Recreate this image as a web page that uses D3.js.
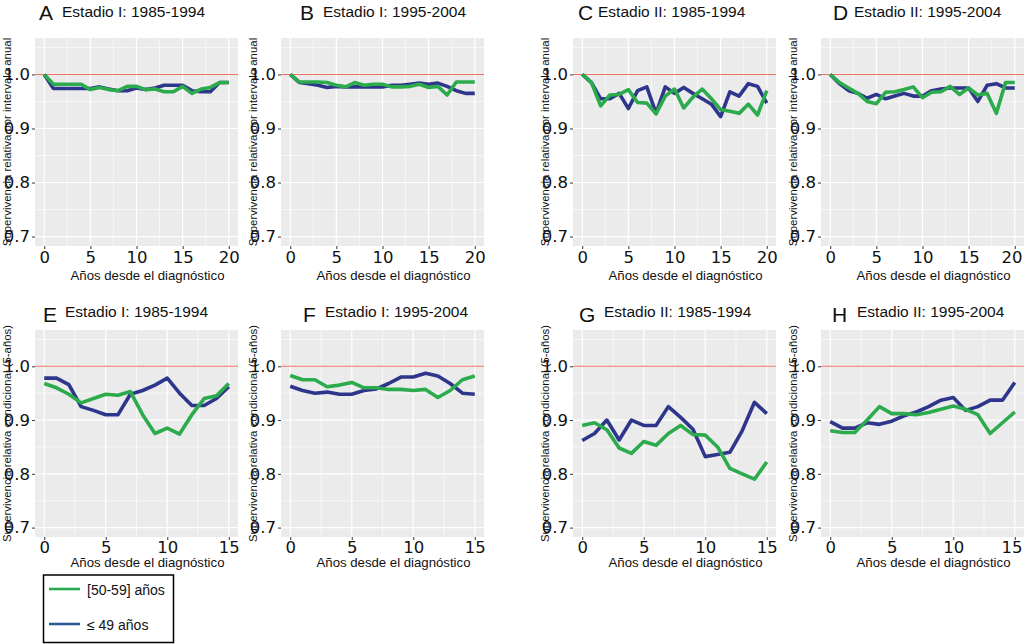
<!DOCTYPE html>
<html>
<head>
<meta charset="utf-8">
<script src="https://cdn.jsdelivr.net/npm/d3@7"></script>
<style>
  body { margin: 0; background: #fff; }
  svg { display: block; }
  text { font-family: "Liberation Sans", Arial, sans-serif; fill: #111; }
</style>
</head>
<body>
<div id="chart"></div>
<script>
// x values
const years20 = [0, 1, 2, 3, 4, 5, 6, 7, 8, 9, 10, 11, 12, 13, 14, 15, 16, 17, 18, 19, 20];
const years15 = [0, 1, 2, 3, 4, 5, 6, 7, 8, 9, 10, 11, 12, 13, 14, 15];

const yTicks = [0.7, 0.8, 0.9, 1.0];
const xTicks20 = [0, 5, 10, 15, 20];
const xTicks15 = [0, 5, 10, 15];

const panelLetters = ["A", "B", "C", "D", "E", "F", "G", "H"];
const panelTitles = ["Estadio I: 1985-1994", "Estadio I: 1995-2004", "Estadio II: 1985-1994", "Estadio II: 1995-2004",
                     "Estadio I: 1985-1994", "Estadio I: 1995-2004", "Estadio II: 1985-1994", "Estadio II: 1995-2004"];
const yTitleTop = "Supervivencia relativa por intervalo anual";
const yTitleBottom = "Supervivencia relativa condicional (5-años)";
const xTitle = "Años desde el diagnóstico";

const seriesNames = ["[50-59] años", "≤ 49 años"];

// [50-59] (green) and <=49 (blue), one pair per panel
const green50 = [
  [1.0, 0.982, 0.982, 0.982, 0.982, 0.972, 0.976, 0.972, 0.970, 0.978, 0.978, 0.972, 0.973, 0.968, 0.968, 0.978, 0.965, 0.973, 0.976, 0.985, 0.985],
  [1.0, 0.986, 0.986, 0.986, 0.985, 0.980, 0.977, 0.985, 0.980, 0.982, 0.982, 0.977, 0.977, 0.978, 0.982, 0.976, 0.978, 0.962, 0.986, 0.986, 0.986],
  [1.0, 0.985, 0.942, 0.962, 0.963, 0.972, 0.948, 0.947, 0.927, 0.960, 0.973, 0.938, 0.958, 0.973, 0.955, 0.935, 0.932, 0.928, 0.945, 0.925, 0.970],
  [1.0, 0.985, 0.975, 0.965, 0.950, 0.946, 0.967, 0.968, 0.972, 0.977, 0.957, 0.967, 0.968, 0.978, 0.963, 0.975, 0.962, 0.965, 0.928, 0.985, 0.985],
  [0.968, 0.960, 0.948, 0.932, 0.940, 0.948, 0.946, 0.953, 0.910, 0.875, 0.885, 0.874, 0.910, 0.940, 0.945, 0.968],
  [0.983, 0.975, 0.975, 0.962, 0.965, 0.970, 0.960, 0.960, 0.957, 0.957, 0.955, 0.957, 0.942, 0.955, 0.975, 0.982],
  [0.890, 0.895, 0.882, 0.848, 0.838, 0.860, 0.853, 0.875, 0.890, 0.873, 0.872, 0.850, 0.810, 0.800, 0.790, 0.822],
  [0.880, 0.877, 0.877, 0.900, 0.925, 0.912, 0.912, 0.910, 0.914, 0.920, 0.926, 0.920, 0.910, 0.875, 0.895, 0.915]
];
const blue49 = [
  [1.0, 0.974, 0.974, 0.974, 0.974, 0.974, 0.977, 0.973, 0.970, 0.970, 0.975, 0.972, 0.975, 0.980, 0.980, 0.980, 0.970, 0.968, 0.968, 0.985, 0.985],
  [1.0, 0.985, 0.983, 0.980, 0.976, 0.978, 0.977, 0.977, 0.977, 0.977, 0.977, 0.980, 0.980, 0.982, 0.984, 0.982, 0.984, 0.978, 0.970, 0.965, 0.965],
  [1.0, 0.985, 0.955, 0.955, 0.965, 0.937, 0.970, 0.977, 0.928, 0.977, 0.965, 0.976, 0.965, 0.955, 0.945, 0.922, 0.968, 0.960, 0.983, 0.978, 0.947],
  [1.0, 0.983, 0.970, 0.965, 0.956, 0.963, 0.955, 0.960, 0.965, 0.960, 0.960, 0.970, 0.973, 0.975, 0.975, 0.975, 0.950, 0.980, 0.983, 0.975, 0.975],
  [0.978, 0.978, 0.966, 0.925, 0.918, 0.910, 0.910, 0.948, 0.955, 0.965, 0.978, 0.950, 0.927, 0.927, 0.940, 0.962],
  [0.963, 0.955, 0.950, 0.952, 0.948, 0.948, 0.955, 0.958, 0.968, 0.980, 0.980, 0.987, 0.982, 0.968, 0.950, 0.948],
  [0.862, 0.875, 0.900, 0.863, 0.900, 0.890, 0.890, 0.925, 0.905, 0.883, 0.832, 0.836, 0.840, 0.880, 0.933, 0.912],
  [0.897, 0.885, 0.885, 0.895, 0.892, 0.898, 0.908, 0.915, 0.925, 0.937, 0.942, 0.918, 0.925, 0.937, 0.937, 0.970]
];

const W = 1024, H = 644;
const colLeft = [35, 281, 573, 821];
const panelW = 203;
const rows = [
  { top: 38, h: 208, tickBase: 17, titleBase: 280, letterBase: 20, textBase: 16.5 },
  { top: 330, h: 207, tickBase: 16, titleBase: 567, letterBase: 321.5, textBase: 316.5 }
];
// title positions (letter x, title x)
const titlePos = [[39, 62], [300, 323], [578, 598], [833, 854], [43, 65], [303, 325], [579, 604], [832, 857]];

const GREEN = "#2bab4c", BLUE = "#2e368c", REF = "#ee7060";

const svg = d3.select("#chart").append("svg")
  .attr("width", W)
  .attr("height", H);

panelLetters.forEach((letter, i) => {
  const r = Math.floor(i / 4), c = i % 4;
  const row = rows[r];
  const left = colLeft[c], top = row.top;
  const xs = r === 0 ? years20 : years15;
  const xMax = r === 0 ? 20 : 15;

  const x = d3.scaleLinear().domain([-0.05 * xMax, xMax * 1.05]).range([left, left + panelW]);
  const y = d3.scaleLinear().domain([0.6825, 1.0675]).range([top + row.h, top]);

  const g = svg.append("g");

  g.append("rect")
    .attr("x", left).attr("y", top)
    .attr("width", panelW).attr("height", row.h)
    .attr("fill", "#ebebeb");

  // minor grid
  const xMinor = d3.range(2.5, xMax, 5);
  const yMinor = [0.75, 0.85, 0.95, 1.05];
  g.selectAll(".xminor").data(xMinor).enter().append("line")
    .attr("x1", d => x(d)).attr("x2", d => x(d))
    .attr("y1", top).attr("y2", top + row.h)
    .attr("stroke", "#fff").attr("stroke-width", 0.6);
  g.selectAll(".yminor").data(yMinor).enter().append("line")
    .attr("x1", left).attr("x2", left + panelW)
    .attr("y1", d => y(d)).attr("y2", d => y(d))
    .attr("stroke", "#fff").attr("stroke-width", 0.6);

  // major grid
  const xt = r === 0 ? xTicks20 : xTicks15;
  g.selectAll(".xmajor").data(xt).enter().append("line")
    .attr("x1", d => x(d)).attr("x2", d => x(d))
    .attr("y1", top).attr("y2", top + row.h)
    .attr("stroke", "#fff").attr("stroke-width", 1.2);
  g.selectAll(".ymajor").data(yTicks).enter().append("line")
    .attr("x1", left).attr("x2", left + panelW)
    .attr("y1", d => y(d)).attr("y2", d => y(d))
    .attr("stroke", "#fff").attr("stroke-width", 1.2);

  // reference line at 1
  g.append("line")
    .attr("x1", left).attr("x2", left + panelW)
    .attr("y1", y(1)).attr("y2", y(1))
    .attr("stroke", REF).attr("stroke-width", 1.1);

  const line = d3.line().x((d, k) => x(xs[k])).y(d => y(d));
  g.append("path").datum(blue49[i])
    .attr("d", line).attr("fill", "none")
    .attr("stroke", BLUE).attr("stroke-width", 3.6)
    .attr("stroke-linejoin", "round");
  g.append("path").datum(green50[i])
    .attr("d", line).attr("fill", "none")
    .attr("stroke", GREEN).attr("stroke-width", 3.6)
    .attr("stroke-linejoin", "round");

  // axis titles (y title under the tick labels)
  g.append("text")
    .attr("x", left + panelW / 2 + 11).attr("y", row.titleBase)
    .attr("text-anchor", "middle")
    .style("font-size", "13.2px")
    .text(xTitle);
  g.append("text")
    .attr("transform", `translate(${left - 24},${top + row.h / 2}) rotate(-90)`)
    .attr("text-anchor", "middle")
    .style("font-size", "11.4px")
    .text(r === 0 ? yTitleTop : yTitleBottom);

  // axes
  const yAxis = d3.axisLeft(y).tickValues(yTicks).tickSize(3).tickPadding(2)
    .tickFormat(d3.format(".1f"));
  const ya = g.append("g").attr("transform", `translate(${left},0)`).call(yAxis);
  const xAxis = d3.axisBottom(x).tickValues(xt).tickSize(3).tickPadding(2);
  const xa = g.append("g").attr("transform", `translate(0,${top + row.h})`).call(xAxis);
  [ya, xa].forEach(a => {
    a.select(".domain").remove();
    a.selectAll(".tick line").attr("stroke", "#333");
    a.selectAll(".tick text")
      .style("font-family", "'DejaVu Sans', sans-serif")
      .style("font-size", "16.5px")
      .attr("fill", "#111");
  });
  xa.selectAll(".tick text").attr("dy", null).attr("y", row.tickBase);
  // keep the last label of the right column inside the page
  if (c === 3) {
    xa.selectAll(".tick text").filter(d => d === xMax)
      .attr("text-anchor", "end")
      .attr("x", W - 2 - x(xMax));
  }

  // panel title
  g.append("text")
    .attr("x", titlePos[i][0]).attr("y", row.letterBase)
    .style("font-size", "21px")
    .text(letter);
  g.append("text")
    .attr("x", titlePos[i][1]).attr("y", row.textBase)
    .style("font-size", "15.5px")
    .text(panelTitles[i]);
});

// legend
const legend = svg.append("g");
legend.append("rect")
  .attr("x", 43.5).attr("y", 575)
  .attr("width", 130).attr("height", 67.5)
  .attr("fill", "#fff").attr("stroke", "#000").attr("stroke-width", 1.5);
const legendColors = ["#2aa84d", "#2e5a93"];
seriesNames.forEach((name, k) => {
  const ly = 589 + k * 35;
  legend.append("line")
    .attr("x1", 49).attr("x2", 80)
    .attr("y1", ly).attr("y2", ly)
    .attr("stroke", legendColors[k]).attr("stroke-width", 2.6);
  legend.append("text")
    .attr("x", 87).attr("y", ly + 6)
    .style("font-size", "14px")
    .text(name);
});
</script>
</body>
</html>
